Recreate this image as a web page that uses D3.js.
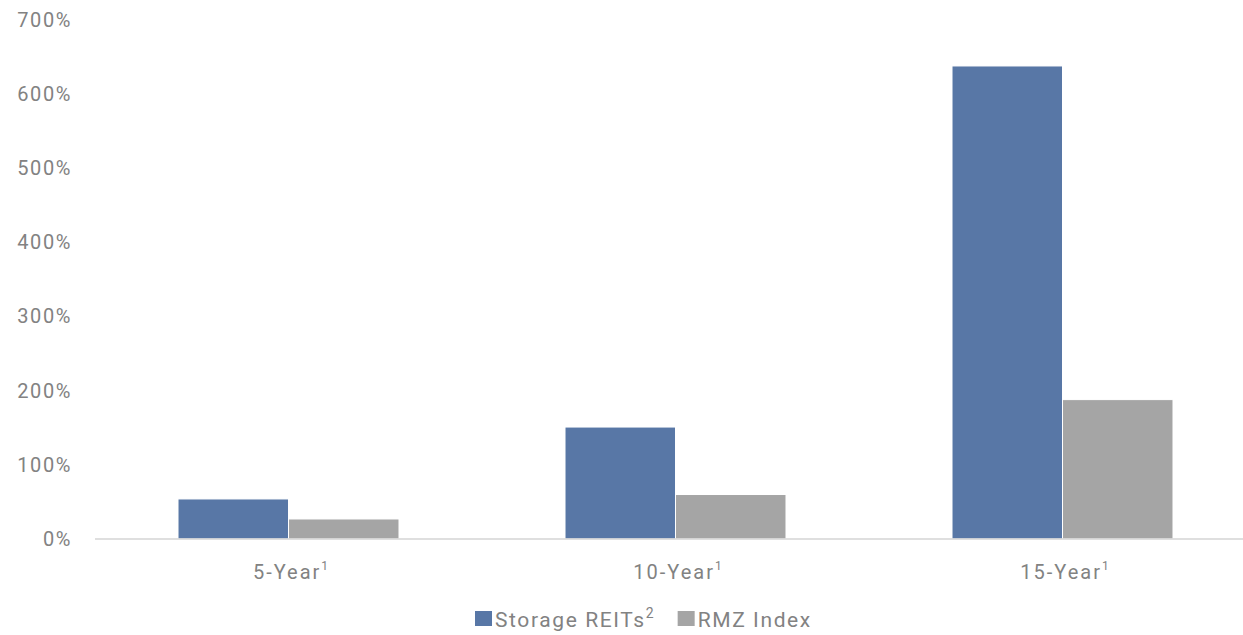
<!DOCTYPE html>
<html>
<head>
<meta charset="utf-8">
<script src="https://cdn.jsdelivr.net/npm/d3@7"></script>
<style>
  html, body { margin: 0; padding: 0; background: #fff; }
  svg { display: block; font-family: Roboto, "Noto Sans", sans-serif; }
</style>
</head>
<body>
<svg id="chart" width="1243" height="635"></svg>
<script>
// Cumulative total return by holding period
const periods = ["5-Year", "10-Year", "15-Year"];
const periodNotes = ["1", "1", "1"];
const seriesNames = ["Storage REITs", "RMZ Index"];
const seriesNotes = ["2", ""];
const storageReits = [54, 151, 638];
const rmzIndex = [27, 60, 188];
const yTicks = [0, 100, 200, 300, 400, 500, 600, 700];
const colors = ["#5877a6", "#a5a5a5"];

const svg = d3.select("#chart");
const W = 1243, H = 635;
const plot = { left: 95, right: 1256, top: 20, bottom: 539 };

const rows = periods.map((p, i) => ({ period: p, note: periodNotes[i], values: [storageReits[i], rmzIndex[i]] }));

const x = d3.scaleBand().domain(periods).range([plot.left, plot.right])
  .paddingInner(0.429).paddingOuter(0.2145);
const xs = d3.scaleBand().domain(seriesNames).range([0, x.bandwidth()]);
const y = d3.scaleLinear().domain([0, 700]).range([plot.bottom, plot.top]);

const textColor = "#828282";

// y-axis labels (no axis line, no ticks)
const yAxis = d3.axisLeft(y).tickValues(yTicks).tickFormat(d => d + "%").tickSize(0).tickPadding(0);
const yg = svg.append("g").attr("transform", "translate(72,0)").call(yAxis);
yg.select(".domain").remove();
yg.selectAll("text").attr("fill", textColor).attr("font-size", 20)
  .attr("font-family", "Roboto").attr("letter-spacing", 1.6);

// bars
const groups = svg.append("g").selectAll("g").data(rows).join("g")
  .attr("transform", d => `translate(${x(d.period)},0)`);
groups.selectAll("rect").data(d => d.values.map((v, k) => ({ v, k })))
  .join("rect")
  .attr("x", d => xs(seriesNames[d.k]))
  .attr("width", xs.bandwidth())
  .attr("y", d => y(d.v))
  .attr("height", d => y(0) - y(d.v))
  .attr("fill", d => colors[d.k])
  .attr("stroke", "#fff")
  .attr("stroke-width", 1);

// baseline
const xAxis = d3.axisBottom(x).tickSize(0).tickPadding(0).tickFormat("");
const xg = svg.append("g").attr("transform", `translate(0,${plot.bottom})`).call(xAxis);
xg.select(".domain").attr("stroke", "#d4d4d4").attr("stroke-width", 1.5).attr("d", `M${plot.left},0H${W}`);

// category labels with footnote marks
const labels = svg.append("g").selectAll("text").data(rows).join("text")
  .attr("x", d => x(d.period) + x.bandwidth() / 2 + 2)
  .attr("y", 579)
  .attr("text-anchor", "middle")
  .attr("fill", textColor)
  .attr("font-size", 20)
  .attr("letter-spacing", 2);
labels.append("tspan").text(d => d.period);
labels.append("tspan").text(d => d.note).attr("font-size", 12).attr("dy", -9).attr("letter-spacing", 0);

// legend
const legend = svg.append("g").attr("transform", "translate(475,0)");
let lx = 0;
seriesNames.forEach((name, k) => {
  legend.append("rect").attr("x", lx).attr("y", 611).attr("width", 17).attr("height", 15).attr("fill", colors[k]);
  const t = legend.append("text").attr("x", lx + 20).attr("y", 627)
    .attr("fill", textColor).attr("font-size", 21).attr("letter-spacing", 1.6);
  t.append("tspan").text(name);
  if (seriesNotes[k]) t.append("tspan").text(seriesNotes[k]).attr("font-size", 14).attr("dy", -9).attr("letter-spacing", 0);
  const bb = t.node().getBBox();
  lx = bb.x + bb.width + 24;
});
</script>
</body>
</html>
